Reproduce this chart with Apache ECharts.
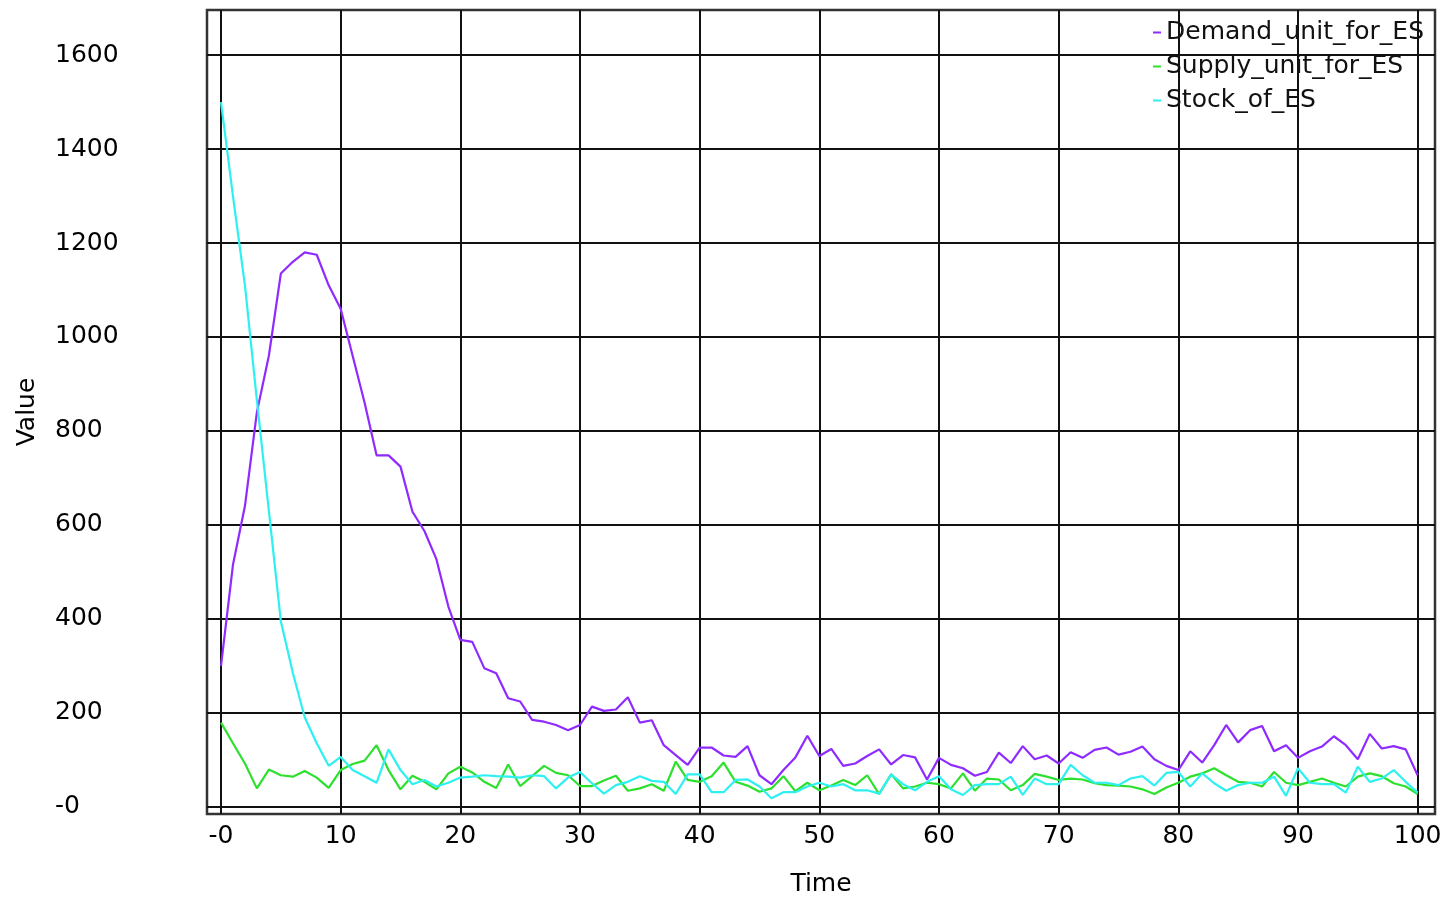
<!DOCTYPE html>
<html>
<head>
<meta charset="utf-8">
<script src="https://cdn.jsdelivr.net/npm/echarts@6/dist/echarts.min.js"></script>
<style>html,body{margin:0;padding:0;background:#fff;}#chart{width:1448px;height:901px;}</style>
</head>
<body>
<div id="chart"></div>
<script>
var time = [0,1,2,3,4,5,6,7,8,9,10,11,12,13,14,15,16,17,18,19,20,21,22,23,24,25,26,27,28,29,30,31,32,33,34,35,36,37,38,39,40,41,42,43,44,45,46,47,48,49,50,51,52,53,54,55,56,57,58,59,60,61,62,63,64,65,66,67,68,69,70,71,72,73,74,75,76,77,78,79,80,81,82,83,84,85,86,87,88,89,90,91,92,93,94,95,96,97,98,99,100];
var demand = [300,515,640,840,960,1135,1160,1180,1175,1110,1060,960,860,748,748,724,628,587,527,426,355,351,295,284,231,224,185,181,174,163,174,213,204,207,233,179,184,131,110,89,126,126,109,106,129,67,48,78,105,151,108,123,87,92,108,122,90,110,105,58,104,89,82,66,74,115,93,129,101,109,92,116,104,121,126,111,117,128,101,87,78,118,94,131,174,137,163,172,118,131,104,118,128,150,131,101,155,124,129,122,67];
var supply = [179,135,92,39,79,67,64,76,62,40,78,91,98,131,78,37,66,53,37,71,85,73,53,40,90,44,65,87,72,67,44,44,56,66,34,39,48,34,96,57,53,65,94,53,45,32,39,65,33,51,35,45,57,46,67,27,69,39,43,51,48,39,71,34,60,58,35,46,70,64,57,60,58,50,46,45,43,37,27,41,51,64,71,82,67,53,51,43,74,51,46,53,60,51,43,64,71,65,50,43,27];
var stock = [1500,1300,1110,865,630,395,285,190,135,87,106,78,65,51,122,78,48,57,43,51,62,64,67,65,64,62,67,65,39,62,74,50,28,46,53,65,55,53,27,69,69,31,31,57,58,43,18,31,31,43,51,43,48,35,35,28,69,48,35,53,65,37,25,46,48,48,64,25,60,48,48,89,67,51,51,46,60,65,45,72,74,43,71,50,34,46,51,51,64,23,82,51,48,48,30,85,53,60,78,53,30];
var seriesNames = ['Demand_unit_for_ES','Supply_unit_for_ES','Stock_of_ES'];
var xTicks = [0,10,20,30,40,50,60,70,80,90,100];
var yTicks = [0,200,400,600,800,1000,1200,1400,1600];

function pairs(arr){ var out=[]; for(var i=0;i<time.length;i++){ out.push([time[i], arr[i]]); } return out; }
function fmt(v){ return v === 0 ? '-0' : String(v); }

var colors = ['#8f2bff','#2ee02e','#2ef0f0'];
var font = 'DejaVu Sans';
var chart = echarts.init(document.getElementById('chart'), null, {renderer:'canvas'});
chart.setOption({
  animation: false,
  backgroundColor: '#fff',
  grid: {left: 207, right: 13, top: 10, bottom: 87, outerBoundsMode: 'none', containLabel: false, show: true, borderColor: '#333', borderWidth: 2.5, backgroundColor: 'transparent'},
  legend: {
    orient: 'vertical', left: 1153, top: 20, padding: 0, itemGap: 9,
    icon: 'rect', itemWidth: 8, itemHeight: 2,
    data: seriesNames,
    textStyle: {fontFamily: font, fontSize: 25, color: '#111'}
  },
  xAxis: {
    type: 'value', min: -1.17, max: 101.45,
    name: 'Time', nameLocation: 'middle', nameGap: 58,
    nameTextStyle: {fontFamily: font, fontSize: 25, color: '#000'},
    axisLine: {show: false},
    axisTick: {show: false, customValues: xTicks},
    axisLabel: {customValues: xTicks, formatter: fmt, fontFamily: font, fontSize: 25, color: '#000', margin: 10},
    splitLine: {show: true, lineStyle: {color: '#111', width: 2}}
  },
  yAxis: {
    type: 'value', min: -15.5, max: 1696,
    name: 'Value', nameLocation: 'middle', nameGap: 167, nameRotate: 90,
    nameTextStyle: {fontFamily: font, fontSize: 25, color: '#000'},
    axisLine: {show: false},
    axisTick: {show: false, customValues: yTicks},
    axisLabel: {customValues: yTicks, formatter: fmt, fontFamily: font, fontSize: 25, color: '#000', align: 'left', margin: 152},
    splitLine: {show: true, lineStyle: {color: '#111', width: 2}}
  },
  series: [
    {name: seriesNames[0], type: 'line', data: pairs(demand), showSymbol: false, color: colors[0], lineStyle: {width: 2.2}},
    {name: seriesNames[1], type: 'line', data: pairs(supply), showSymbol: false, color: colors[1], lineStyle: {width: 2.2}},
    {name: seriesNames[2], type: 'line', data: pairs(stock), showSymbol: false, color: colors[2], lineStyle: {width: 2.2}}
  ]
});
</script>
</body>
</html>
